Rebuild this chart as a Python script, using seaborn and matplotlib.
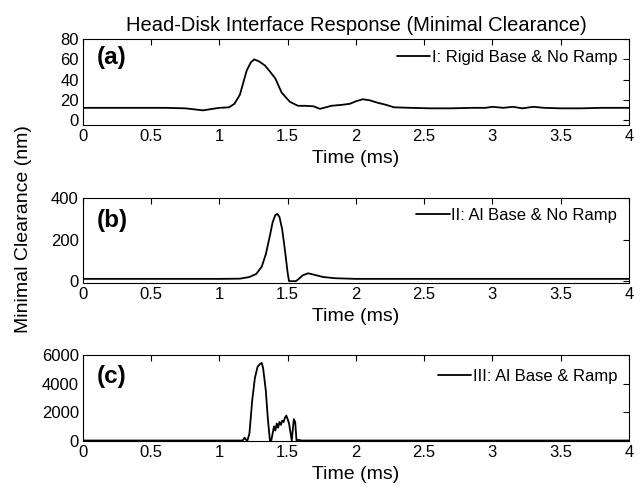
import matplotlib
matplotlib.use("Agg")
import matplotlib.pyplot as plt
import seaborn as sns
import pandas as pd

# ---- data ----
t_a = [0, 0.2, 0.4, 0.6, 0.75, 0.88, 0.95, 1.0, 1.07, 1.11, 1.15, 1.2, 1.23, 1.255, 1.29, 1.333,
       1.37, 1.41, 1.456, 1.516, 1.576, 1.63, 1.69, 1.736, 1.78, 1.82, 1.9, 1.956, 2.0, 2.05,
       2.1, 2.16, 2.22, 2.28, 2.4, 2.55, 2.7, 2.85, 2.95, 3.0, 3.08, 3.15, 3.22, 3.3, 3.38,
       3.5, 3.65, 3.8, 4.0]
v_a = [12, 12, 12, 12, 11.5, 9.5, 11, 12, 12.5, 16, 25, 49, 57, 60, 58, 54,
       48, 41, 27, 18, 14, 14, 13.5, 11, 12.5, 14, 15, 16, 18.5, 20.5,
       19.5, 17, 15, 12.5, 12, 11.5, 11.5, 12, 12, 13, 12, 13, 11.5, 13, 12,
       11.5, 11.5, 12, 12]

t_b = [0, 0.5, 1.0, 1.15, 1.22, 1.27, 1.31, 1.34, 1.37, 1.39, 1.41, 1.425, 1.44, 1.46,
       1.48, 1.50, 1.51, 1.56, 1.58, 1.61, 1.65, 1.70, 1.76, 1.85, 2.0, 2.5, 3.0, 3.5, 4.0]
v_b = [11, 11, 11, 12, 20, 35, 70, 130, 220, 285, 320, 325, 310, 250,
       150, 40, 0, 0, 10, 28, 38, 30, 20, 14, 11, 11, 11, 11, 11]

t_c = [0, 1.17, 1.185, 1.195, 1.205, 1.22, 1.24, 1.26, 1.28, 1.30, 1.31, 1.32, 1.34, 1.355,
       1.37, 1.38, 1.40, 1.41, 1.42, 1.43, 1.44, 1.45, 1.46, 1.47, 1.48, 1.49, 1.50, 1.51,
       1.53, 1.545, 1.555, 1.565, 1.58, 1.6, 4.0]
v_c = [0, 0, 200, 50, 0, 500, 2800, 4400, 5200, 5400, 5450, 5100, 3500, 1500,
       0, 0, 1000, 700, 1200, 900, 1300, 1100, 1400, 1300, 1600, 1750, 1500, 1200,
       0, 1500, 1300, 0, 50, 0, 0]

labels = ["I: Rigid Base & No Ramp", "II: Al Base & No Ramp", "III: Al Base & Ramp"]
panel_tags = ["(a)", "(b)", "(c)"]
x_ticks = [0, 0.5, 1, 1.5, 2, 2.5, 3, 3.5, 4]
y_ticks = [[0, 20, 40, 60, 80], [0, 200, 400], [0, 2000, 4000, 6000]]
y_lims = [(-5, 80), (-10, 400), (-30, 6000)]
title = "Head-Disk Interface Response (Minimal Clearance)"
xlabel = "Time (ms)"
ylabel = "Minimal Clearance (nm)"

sns.set_style("white")
plt.rcParams["font.family"] = ["Liberation Sans", "DejaVu Sans"]
plt.rcParams["text.color"] = "black"
plt.rcParams["axes.labelcolor"] = "black"

fig = plt.figure(figsize=(6.43, 4.96), dpi=100)
positions = [[0.129, 0.748, 0.849, 0.173],
             [0.129, 0.429, 0.849, 0.171],
             [0.129, 0.111, 0.849, 0.173]]
tag_y = [0.79, 0.74, 0.755]
leg_y = [0.79, 0.80, 0.75]

series = [(t_a, v_a), (t_b, v_b), (t_c, v_c)]
for i, (t, v) in enumerate(series):
    ax = fig.add_axes(positions[i])
    df = pd.DataFrame({"t": t, "v": v})
    sns.lineplot(data=df, x="t", y="v", ax=ax, color="black", linewidth=1.3,
                 label=labels[i])
    ax.set_xlim(0, 4)
    ax.set_ylim(*y_lims[i])
    ax.set_xticks(x_ticks)
    ax.set_xticklabels([f"{x:g}" for x in x_ticks])
    ax.set_yticks(y_ticks[i])
    ax.tick_params(direction="in", top=True, right=True, length=4, width=0.8,
                   labelsize=12, pad=3, colors="black")
    for s in ax.spines.values():
        s.set_color("black")
        s.set_linewidth(0.8)
    ax.set_xlabel(xlabel, fontsize=14, labelpad=4, color="black")
    ax.set_ylabel("")
    ax.text(0.025, tag_y[i], panel_tags[i], transform=ax.transAxes, color="black",
            fontsize=17.5, fontweight="bold", ha="left", va="center")
    leg = ax.legend(loc="center right", bbox_to_anchor=(1.0, leg_y[i]), frameon=False,
                    fontsize=12, handlelength=2.0, handletextpad=0.1, borderaxespad=0.3)
    for txt in leg.get_texts():
        txt.set_color("black")
    if i == 0:
        ax.set_title(title, fontsize=14.5, pad=6, color="black")

fig.text(0.036, 0.538, ylabel, rotation=90, ha="center", va="center", fontsize=14,
         color="black")
fig.savefig("out.png", dpi=100)
